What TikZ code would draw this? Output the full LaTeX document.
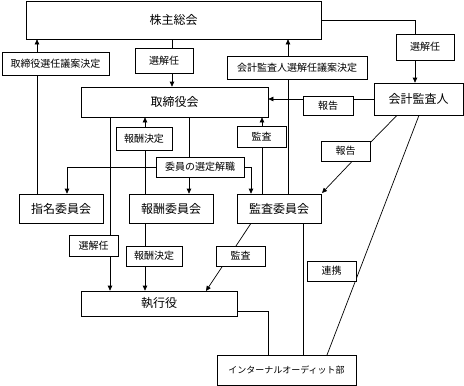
\documentclass[tikz,border=0pt]{standalone}
\usepackage{fontspec}
\setmainfont{Noto Sans CJK JP}
\usetikzlibrary{arrows.meta,backgrounds}
\begin{document}
\begin{tikzpicture}[x=1pt,y=-1pt,
  box/.style={draw,fill=white,line width=0.7pt,inner sep=0pt,font=\fontsize{12}{14}\selectfont},
  lab/.style={draw,fill=white,line width=0.7pt,inner sep=0pt,font=\fontsize{10}{12}\selectfont},
  conn/.style={line width=0.7pt},
  arr/.style={conn,-{Triangle[length=5pt,width=4.5pt]}}]
\useasboundingbox (0,0) rectangle (464,386);
% main boxes
\node[box,minimum width=295pt,minimum height=38pt] (soukai) at (173.5,20) {株主総会};
\node[box,minimum width=187pt,minimum height=30pt] (tb) at (174.5,102) {取締役会};
\node[box,minimum width=89pt,minimum height=32pt] (kaikei) at (418.5,99) {会計監査人};
\node[box,minimum width=84pt,minimum height=29pt] (shimei) at (61,208.5) {指名委員会};
\node[box,minimum width=84pt,minimum height=29pt] (housyu) at (171,208.5) {報酬委員会};
\node[box,minimum width=84pt,minimum height=29pt] (kansa) at (279,208.5) {監査委員会};
\node[box,minimum width=156pt,minimum height=25pt] (shikkou) at (159,303.5) {執行役};
\node[box,minimum width=139pt,minimum height=30pt,font=\fontsize{9}{11}\selectfont] (ia) at (286.5,370) {インターナルオーディット部};
% labels
\node[lab,minimum width=107pt,minimum height=23pt] (l1) at (55.5,63.5) {取締役選任議案決定};
\node[lab,minimum width=58pt,minimum height=25pt] (l2) at (164,60.5) {選解任};
\node[lab,minimum width=140pt,minimum height=23pt] (l3) at (297,67.5) {会計監査人選解任議案決定};
\node[lab,minimum width=58pt,minimum height=26pt] (l4) at (425,47) {選解任};
\node[lab,minimum width=50pt,minimum height=19pt] (l5) at (328,105.5) {報告};
\node[lab,minimum width=56pt,minimum height=23pt] (l6) at (144,138.5) {報酬決定};
\node[lab,minimum width=49pt,minimum height=21pt] (l7) at (261.5,136.5) {監査};
\node[lab,minimum width=88pt,minimum height=20pt] (l8) at (200,167) {委員の選定解職};
\node[lab,minimum width=49pt,minimum height=20pt] (l9) at (345.5,151) {報告};
\node[lab,minimum width=49pt,minimum height=21pt] (l10) at (93.5,245.5) {選解任};
\node[lab,minimum width=56pt,minimum height=20pt] (l11) at (154,256) {報酬決定};
\node[lab,minimum width=49pt,minimum height=20pt] (l12) at (240.5,256) {監査};
\node[lab,minimum width=49pt,minimum height=20pt] (l13) at (331.5,271) {連携};
% helper coordinates
\coordinate (x37) at (37,0);
\coordinate (x172) at (172,0);
\coordinate (x288) at (288,0);
\coordinate (x415) at (415,0);
\coordinate (x110) at (110,0);
\coordinate (x145) at (145,0);
\coordinate (x189) at (189,0);
\coordinate (x67) at (67,0);
\coordinate (x251) at (251,0);
\coordinate (x262) at (262,0);
\coordinate (x303) at (303,0);
\coordinate (x268) at (268,0);
\coordinate (x397) at (397,0);
\coordinate (x419) at (419,0);
\coordinate (y311) at (0,311);
\coordinate (m9) at (361,152);
\coordinate (kn) at (322,193);
\coordinate (sn) at (206,291);
\coordinate (in) at (327,355);
\begin{scope}[on background layer]
\draw[arr] (x37 |- shimei.north) -- (x37 |- soukai.south);
\draw[arr] (x172 |- soukai.south) -- (x172 |- tb.north);
\draw[arr] (x288 |- kansa.north) -- (x288 |- soukai.south);
\draw[arr] (soukai.east) -| (x415 |- kaikei.north);
\draw[arr] (kaikei.west) -- (kaikei.west -| tb.east);
\draw[arr] (x110 |- tb.south) -- (x110 |- shikkou.north);
\draw[arr] (x145 |- housyu.north) -- (x145 |- tb.south);
\draw[arr] (x189 |- tb.south) -- (x189 |- housyu.north);
\draw[arr] (l8.west) -| (x67 |- shimei.north);
\draw[arr] (l8.east) -| (x251 |- kansa.north);
\draw[arr] (x262 |- kansa.north) -- (x262 |- tb.south);
\draw[arr] (x145 |- housyu.south) -- (x145 |- shikkou.north);
\draw[arr] (x251 |- kansa.south) -- (sn);
\draw[conn] (shikkou.east |- y311) -| (x268 |- ia.north);
\draw[conn] (x303 |- kansa.south) -- (x303 |- ia.north);
\draw[arr] (x397 |- kaikei.south) -- (m9) -- (kn);
\draw[conn] (x419 |- kaikei.south) -- (in);
\end{scope}
\end{tikzpicture}
\end{document}
